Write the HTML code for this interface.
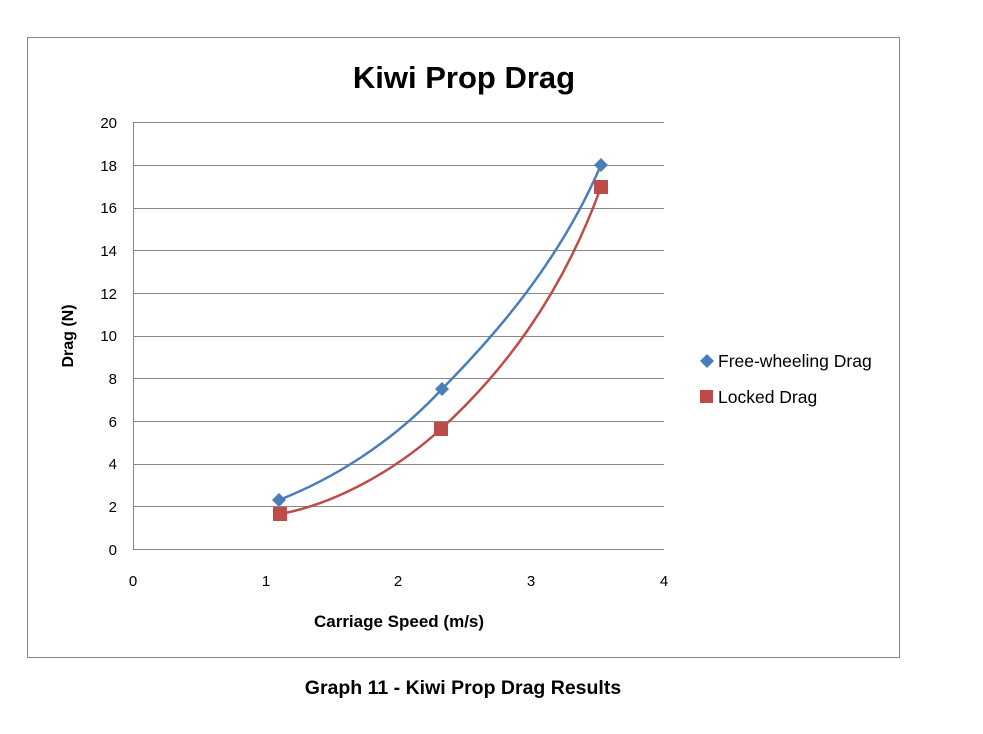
<!DOCTYPE html>
<html><head><meta charset="utf-8"><style>
body{margin:0;background:#fff;width:983px;height:734px;overflow:hidden}
svg{display:block}
</style></head><body>
<svg width="983" height="734" xmlns="http://www.w3.org/2000/svg" font-family="Liberation Sans, sans-serif">
<rect x="27.5" y="37.5" width="872" height="620" fill="#fff" stroke="#888" stroke-width="1"/>
<text x="464" y="88" font-size="31" font-weight="bold" text-anchor="middle" fill="#000">Kiwi Prop Drag</text>
<g stroke="#888" stroke-width="1">
<line x1="133" y1="122.5" x2="664" y2="122.5"/>
<line x1="133" y1="165.5" x2="664" y2="165.5"/>
<line x1="133" y1="208.5" x2="664" y2="208.5"/>
<line x1="133" y1="250.5" x2="664" y2="250.5"/>
<line x1="133" y1="293.5" x2="664" y2="293.5"/>
<line x1="133" y1="336.5" x2="664" y2="336.5"/>
<line x1="133" y1="378.5" x2="664" y2="378.5"/>
<line x1="133" y1="421.5" x2="664" y2="421.5"/>
<line x1="133" y1="464.5" x2="664" y2="464.5"/>
<line x1="133" y1="506.5" x2="664" y2="506.5"/>
<line x1="133" y1="549.5" x2="664" y2="549.5"/>
<line x1="133.5" y1="122" x2="133.5" y2="549"/>
</g>
<g font-size="15" fill="#000" text-anchor="end">
<text x="117" y="128">20</text><text x="117" y="171">18</text><text x="117" y="213">16</text>
<text x="117" y="256">14</text><text x="117" y="299">12</text><text x="117" y="341">10</text>
<text x="117" y="384">8</text><text x="117" y="427">6</text><text x="117" y="469">4</text>
<text x="117" y="512">2</text><text x="117" y="555">0</text>
</g>
<g font-size="15" fill="#000" text-anchor="middle">
<text x="133" y="586">0</text><text x="266" y="586">1</text><text x="398" y="586">2</text>
<text x="531" y="586">3</text><text x="664" y="586">4</text>
</g>
<text x="399" y="627" font-size="17" font-weight="bold" text-anchor="middle">Carriage Speed (m/s)</text>
<text transform="translate(73,336) rotate(-90)" font-size="16" font-weight="bold" text-anchor="middle">Drag (N)</text>
<path d="M279,500 C330,480 390,445 442,389 C500,330 560,260 601,165" fill="none" stroke="#4a7ebb" stroke-width="2.5"/>
<path d="M280,514 C330,505 390,475 441,429 C500,375 560,300 601,187" fill="none" stroke="#be4b48" stroke-width="2.5"/>
<g fill="#4a7ebb">
<polygon points="279,493 286,500 279,507 272,500"/>
<polygon points="442,382 449,389 442,396 435,389"/>
<polygon points="601,158 608,165 601,172 594,165"/>
</g>
<g fill="#be4b48">
<rect x="273" y="507" width="14" height="14"/>
<rect x="434" y="422" width="14" height="14"/>
<rect x="594" y="180" width="14" height="14"/>
</g>
<polygon points="707,354 714,361 707,368 700,361" fill="#4a7ebb"/>
<text x="718" y="367" font-size="17.5">Free-wheeling Drag</text>
<rect x="700" y="390" width="13" height="13" fill="#be4b48"/>
<text x="718" y="403" font-size="17.5">Locked Drag</text>
<text x="463" y="694" font-size="19.5" font-weight="bold" text-anchor="middle">Graph 11 - Kiwi Prop Drag Results</text>
</svg>
</body></html>
